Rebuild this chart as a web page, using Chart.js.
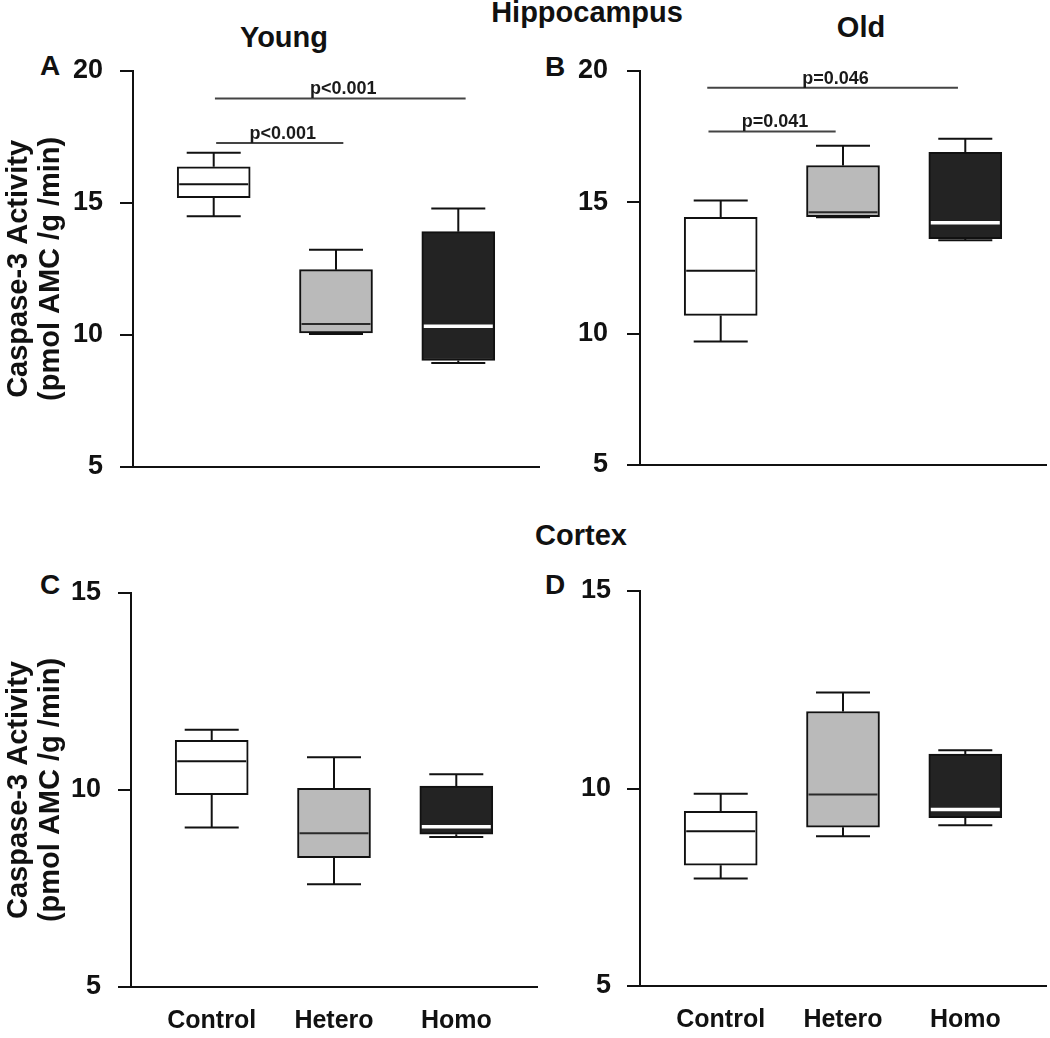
<!DOCTYPE html>
<html>
<head>
<meta charset="utf-8">
<title>Caspase-3 Activity</title>
<script src="https://cdn.jsdelivr.net/npm/chart.js@4.4.1/dist/chart.umd.min.js"></script>
<style>
  html, body { margin: 0; padding: 0; background: #fff; }
  #fig { position: relative; width: 1050px; height: 1038px; overflow: hidden;
         font-family: "Liberation Sans", Arial, sans-serif; color: #111; }
  #fig canvas { position: absolute; }
  .lbl { position: absolute; font-weight: bold; line-height: 1; white-space: nowrap; }
  .ctr { transform: translateX(-50%); }
</style>
</head>
<body>
<div id="fig">
  <div class="lbl ctr" style="left:587px;top:-2px;font-size:29px">Hippocampus</div>
  <div class="lbl ctr" style="left:284px;top:23px;font-size:29px">Young</div>
  <div class="lbl ctr" style="left:861px;top:13px;font-size:29px">Old</div>
  <div class="lbl ctr" style="left:581px;top:521px;font-size:29px">Cortex</div>
  <div class="lbl" style="left:40px;top:52px;font-size:28px">A</div>
  <div class="lbl" style="left:545px;top:53px;font-size:28px">B</div>
  <div class="lbl" style="left:40px;top:571px;font-size:28px">C</div>
  <div class="lbl" style="left:545px;top:571px;font-size:28px">D</div>

  <canvas id="chartA" width="560" height="500" style="left:0;top:0"></canvas>
  <canvas id="chartB" width="505" height="500" style="left:545px;top:0"></canvas>
  <canvas id="chartC" width="560" height="518" style="left:0;top:520px"></canvas>
  <canvas id="chartD" width="505" height="518" style="left:545px;top:520px"></canvas>
</div>

<script>
const groups = ['Control', 'Hetero', 'Homo'];
const groupPos = [0, 1, 2];

// A - hippocampus, young
const hipYoungMin = [14.5, 10.03, 8.93];
const hipYoungQ1 = [15.2, 10.07, 9.03];
const hipYoungMed = [15.71, 10.41, 10.33];
const hipYoungQ3 = [16.37, 12.47, 13.91];
const hipYoungMax = [16.9, 13.23, 14.79];

// B - hippocampus, old
const hipOldMin = [9.7, 14.43, 13.55];
const hipOldQ1 = [10.69, 14.45, 13.61];
const hipOldMed = [12.39, 14.62, 14.22];
const hipOldQ3 = [14.43, 16.4, 16.9];
const hipOldMax = [15.07, 17.15, 17.42];

// C - cortex, young
const ctxYoungMin = [9.05, 7.61, 8.81];
const ctxYoungQ1 = [9.88, 8.28, 8.88];
const ctxYoungMed = [10.73, 8.9, 9.07];
const ctxYoungQ3 = [11.26, 10.04, 10.1];
const ctxYoungMax = [11.53, 10.83, 10.4];

// D - cortex, old
const ctxOldMin = [7.72, 8.79, 9.07];
const ctxOldQ1 = [8.06, 9.02, 9.26];
const ctxOldMed = [8.92, 9.85, 9.47];
const ctxOldQ3 = [9.42, 11.95, 10.87];
const ctxOldMax = [9.87, 12.43, 10.97];

// significance brackets (x in group units, y in data units)
const sigYoungText = ['p<0.001', 'p<0.001'];
const sigYoungLevel = [18.96, 17.27];
const sigYoungFrom = [0.01, 0.02];
const sigYoungTo = [2.06, 1.06];

const sigOldText = ['p=0.046', 'p=0.041'];
const sigOldLevel = [19.36, 17.7];
const sigOldFrom = [-0.11, -0.1];
const sigOldTo = [1.94, 0.94];

const hipTicks = [5, 10, 15, 20];
const ctxTicks = [5, 10, 15];

const FONT = '"Liberation Sans", Arial, sans-serif';
const boxFill = ['#ffffff', '#bababa', '#232323'];
const medianColor = ['#111111', '#2a2a2a', '#ffffff'];
const medianWidth = [2, 2, 3.5];

function whiskerPlugin(p) {
    return {
        id: 'whiskers',
        beforeDatasetsDraw(chart) {
            const { ctx, scales: { x, y } } = chart;
            const meta = chart.getDatasetMeta(0);
            ctx.save();
            ctx.strokeStyle = '#111';
            ctx.lineWidth = 2;
            groupPos.forEach((g, i) => {
                const cx = x.getPixelForValue(g);
                const cap = meta.data[i].width * 0.37;
                const yMax = y.getPixelForValue(p.max[i]);
                const yMin = y.getPixelForValue(p.min[i]);
                ctx.beginPath();
                ctx.moveTo(cx, y.getPixelForValue(p.q3[i]));
                ctx.lineTo(cx, yMax);
                ctx.moveTo(cx - cap, yMax);
                ctx.lineTo(cx + cap, yMax);
                ctx.moveTo(cx, y.getPixelForValue(p.q1[i]));
                ctx.lineTo(cx, yMin);
                ctx.moveTo(cx - cap, yMin);
                ctx.lineTo(cx + cap, yMin);
                ctx.stroke();
            });
            ctx.restore();
        },
        afterDatasetsDraw(chart) {
            const { ctx, scales: { x, y } } = chart;
            const meta = chart.getDatasetMeta(0);
            ctx.save();
            groupPos.forEach((g, i) => {
                const cx = x.getPixelForValue(g);
                const half = meta.data[i].width / 2 - 2;
                const ym = y.getPixelForValue(p.med[i]);
                ctx.strokeStyle = medianColor[i];
                ctx.lineWidth = medianWidth[i];
                ctx.beginPath();
                ctx.moveTo(cx - half, ym);
                ctx.lineTo(cx + half, ym);
                ctx.stroke();
            });
            ctx.restore();
        }
    };
}

function sigPlugin(s) {
    return {
        id: 'sigBars',
        afterDraw(chart) {
            if (!s) return;
            const { ctx, scales: { x, y } } = chart;
            ctx.save();
            ctx.strokeStyle = '#444';
            ctx.lineWidth = 2;
            ctx.fillStyle = '#1a1a1a';
            ctx.font = 'bold 18px ' + FONT;
            ctx.textAlign = 'center';
            ctx.textBaseline = 'alphabetic';
            s.text.forEach((t, i) => {
                const x0 = x.getPixelForValue(s.from[i]);
                const x1 = x.getPixelForValue(s.to[i]);
                const yy = y.getPixelForValue(s.level[i]);
                ctx.beginPath();
                ctx.moveTo(x0, yy);
                ctx.lineTo(x1, yy);
                ctx.stroke();
                ctx.fillText(t, (x0 + x1) / 2 + 3, yy - 4);
            });
            ctx.restore();
        }
    };
}

function buildPanel(id, p) {
    const axisColor = '#111';
    new Chart(document.getElementById(id), {
        type: 'bar',
        data: {
            datasets: [{
                data: groupPos.map((g, i) => ({ x: g, y: [p.q1[i], p.q3[i]] })),
                backgroundColor: boxFill,
                borderColor: '#111',
                borderWidth: 2,
                borderSkipped: false,
                barThickness: 73
            }]
        },
        options: {
            responsive: false,
            animation: false,
            layout: { padding: p.pad },
            plugins: {
                legend: { display: false },
                tooltip: { enabled: false }
            },
            scales: {
                x: {
                    type: 'linear',
                    min: -0.66,
                    max: 2.66,
                    offset: false,
                    afterFit: s => { s.height = p.xHeight; },
                    afterBuildTicks: s => { s.ticks = groupPos.map(v => ({ value: v })); },
                    grid: { display: true, drawOnChartArea: false, drawTicks: false, offset: false },
                    border: { display: true, color: axisColor, width: 2 },
                    ticks: {
                        display: p.showGroups,
                        padding: 19,
                        color: '#111',
                        font: { family: FONT, size: 25, weight: 'bold' },
                        callback: v => groups[v] || ''
                    }
                },
                y: {
                    type: 'linear',
                    min: p.yTicks[0],
                    max: p.yTicks[p.yTicks.length - 1],
                    afterFit: s => { s.width = p.yWidth; },
                    afterBuildTicks: s => { s.ticks = p.yTicks.map(v => ({ value: v })); },
                    grid: {
                        drawOnChartArea: false,
                        drawTicks: true,
                        tickLength: 13,
                        color: axisColor,
                        lineWidth: 2
                    },
                    border: { display: true, color: axisColor, width: 2 },
                    ticks: {
                        padding: p.tickPad,
                        color: '#111',
                        font: { family: FONT, size: 27, weight: 'bold' }
                    },
                    title: {
                        display: p.showTitle,
                        text: ['Caspase-3 Activity', '(pmol AMC /g /min)'],
                        color: '#111',
                        padding: { top: 3, bottom: 0 },
                        font: { family: FONT, size: 29, weight: 'bold', lineHeight: 1.1 }
                    }
                }
            }
        },
        plugins: [whiskerPlugin(p), sigPlugin(p.sig)]
    });
}

buildPanel('chartA', {
    min: hipYoungMin, q1: hipYoungQ1, med: hipYoungMed, q3: hipYoungQ3, max: hipYoungMax,
    yTicks: hipTicks, yWidth: 133, xHeight: 23, tickPad: 17,
    pad: { top: 71, right: 21, left: 0, bottom: 0 },
    showGroups: false, showTitle: true,
    sig: { text: sigYoungText, level: sigYoungLevel, from: sigYoungFrom, to: sigYoungTo }
});

buildPanel('chartB', {
    min: hipOldMin, q1: hipOldQ1, med: hipOldMed, q3: hipOldQ3, max: hipOldMax,
    yTicks: hipTicks, yWidth: 95, xHeight: 23, tickPad: 19,
    pad: { top: 71, right: 4, left: 0, bottom: 0 },
    showGroups: false, showTitle: false,
    sig: { text: sigOldText, level: sigOldLevel, from: sigOldFrom, to: sigOldTo }
});

buildPanel('chartC', {
    min: ctxYoungMin, q1: ctxYoungQ1, med: ctxYoungMed, q3: ctxYoungQ3, max: ctxYoungMax,
    yTicks: ctxTicks, yWidth: 131, xHeight: 51, tickPad: 17,
    pad: { top: 73, right: 23, left: 0, bottom: 0 },
    showGroups: true, showTitle: true,
    sig: null
});

buildPanel('chartD', {
    min: ctxOldMin, q1: ctxOldQ1, med: ctxOldMed, q3: ctxOldQ3, max: ctxOldMax,
    yTicks: ctxTicks, yWidth: 95, xHeight: 52, tickPad: 16,
    pad: { top: 71, right: 4, left: 0, bottom: 0 },
    showGroups: true, showTitle: false,
    sig: null
});
</script>
</body>
</html>
